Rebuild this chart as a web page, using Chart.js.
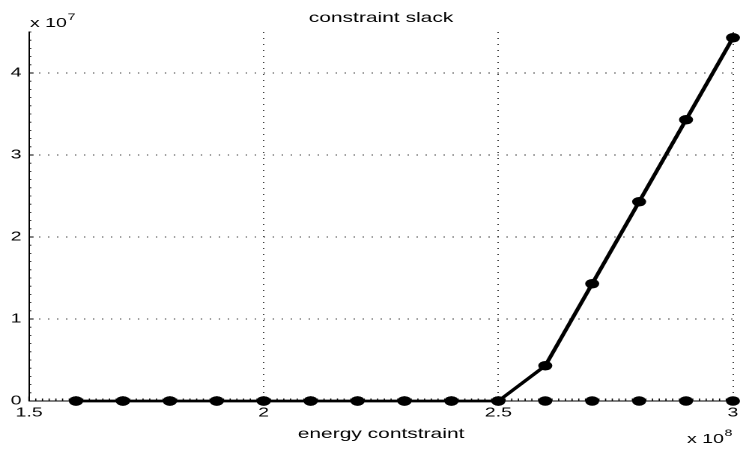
<!DOCTYPE html>
<html><head><meta charset="utf-8">
<script src="https://cdn.jsdelivr.net/npm/chart.js@4/dist/chart.umd.min.js"></script>
<style>
html,body{margin:0;padding:0;background:#fff;overflow:hidden}
#wrap{width:494px;height:449px;transform:scaleX(1.498);transform-origin:0 0}
</style></head><body>
<div id="wrap"><canvas id="c" width="494" height="449"></canvas></div>
<script>
// ---- data ----
const energyConstraint = [1.6e8, 1.7e8, 1.8e8, 1.9e8, 2.0e8, 2.1e8, 2.2e8, 2.3e8, 2.4e8, 2.5e8, 2.6e8, 2.7e8, 2.8e8, 2.9e8, 3.0e8];
const constraintSlack  = [0, 0, 0, 0, 0, 0, 0, 0, 0, 0, 0.43e7, 1.43e7, 2.43e7, 3.43e7, 4.43e7];
const zeroMarkers      = [0, 0, 0, 0, 0, 0, 0, 0, 0, 0, 0, 0, 0, 0, 0];
const xTicks = [1.5e8, 2.0e8, 2.5e8, 3.0e8];
const yTicks = [0, 1e7, 2e7, 3e7, 4e7];

const F = '"Liberation Sans", Arial, Helvetica, sans-serif';

const toPts = (xs, ys) => xs.map((x, i) => ({x: x, y: ys[i]}));

const decor = {
  id: 'decor',
  afterDatasetsDraw(chart) {
    const ctx = chart.ctx, a = chart.chartArea;
    const xs = chart.scales.x, ys = chart.scales.y;
    ctx.save();
    ctx.strokeStyle = '#000';
    ctx.lineWidth = 0.8;
    ctx.beginPath();
    // minor x ticks (inward)
    const xStep = (xTicks[1] - xTicks[0]) / 35;
    for (let i = 0; ; i++) {
      const v = xs.min + i * xStep;
      if (v > xs.max + 1) break;
      const p = xs.getPixelForValue(v);
      ctx.moveTo(p, a.bottom); ctx.lineTo(p, a.bottom - 2.5);
    }
    // minor y ticks
    const yStep = (yTicks[1] - yTicks[0]) / 10;
    for (let i = 0; ; i++) {
      const v = ys.min + i * yStep;
      if (v > ys.max + 1) break;
      const p = ys.getPixelForValue(v);
      ctx.moveTo(a.left, p); ctx.lineTo(a.left + 1.5, p);
    }
    ctx.stroke();
    ctx.lineWidth = 1;
    ctx.beginPath();
    xTicks.forEach(v => { const p = xs.getPixelForValue(v); ctx.moveTo(p, a.bottom); ctx.lineTo(p, a.bottom - 4.5); });
    yTicks.forEach(v => { const p = ys.getPixelForValue(v); ctx.moveTo(a.left, p); ctx.lineTo(a.left + 3, p); });
    ctx.stroke();
    ctx.restore();
  },
  afterDraw(chart) {
    const ctx = chart.ctx, a = chart.chartArea;
    ctx.save();
    ctx.fillStyle = '#000';
    ctx.textBaseline = 'alphabetic';
    ctx.textAlign = 'center';
    ctx.font = '14px ' + F;
    const cx = (a.left + a.right) / 2;
    ctx.fillText('constraint slack', cx, 22);
    ctx.fillText('energy contstraint', cx, 438);
    ctx.textAlign = 'left';
    // x 10^8
    ctx.font = '13px ' + F;
    let x0 = 687 / 1.498;
    ctx.fillText('x 10', x0, 443);
    let w = ctx.measureText('x 10').width;
    ctx.font = '9.5px ' + F;
    ctx.fillText('8', x0 + w + 0.5, 436);
    // x 10^7
    ctx.font = '13px ' + F;
    x0 = 30 / 1.498;
    ctx.fillText('x 10', x0, 27);
    w = ctx.measureText('x 10').width;
    ctx.font = '9.5px ' + F;
    ctx.fillText('7', x0 + w + 0.5, 20);
    ctx.restore();
  }
};

new Chart(document.getElementById('c'), {
  type: 'scatter',
  data: {
    datasets: [
      {
        data: toPts(energyConstraint, zeroMarkers),
        showLine: false,
        pointRadius: 4.7, pointBackgroundColor: '#000', pointBorderColor: '#000', pointBorderWidth: 0,
        clip: false
      },
      {
        data: toPts(energyConstraint, constraintSlack),
        showLine: true,
        borderColor: '#000', borderWidth: 2.8,
        pointRadius: 4.7, pointBackgroundColor: '#000', pointBorderColor: '#000', pointBorderWidth: 0,
        clip: false
      }
    ]
  },
  options: {
    responsive: false,
    devicePixelRatio: 2,
    animation: false,
    events: [],
    layout: {padding: {top: 32, right: 3.3, bottom: 0, left: 0}},
    plugins: {legend: {display: false}, tooltip: {enabled: false}, title: {display: false}},
    scales: {
      x: {
        type: 'linear', min: 1.5e8, max: 3e8,
        afterBuildTicks: s => { s.ticks = xTicks.map(v => ({value: v})); },
        afterFit: s => { s.height = 48; s.paddingLeft = 0; s.paddingRight = 0; },
        ticks: {callback: v => String(v / 1e8), font: {size: 13, family: F}, color: '#000', padding: 4, maxRotation: 0, autoSkip: false},
        grid: {drawTicks: false, lineWidth: 1, color: c => (c.tick && c.tick.value === xTicks[0]) ? 'rgba(0,0,0,0)' : '#444'},
        border: {display: true, color: '#000', width: 1, dash: [1, 5]}
      },
      y: {
        type: 'linear', min: 0, max: 4.5e7,
        afterBuildTicks: s => { s.ticks = yTicks.map(v => ({value: v})); },
        afterFit: s => { s.width = 19.4; s.paddingTop = 0; s.paddingBottom = 0; },
        ticks: {callback: v => String(v / 1e7), font: {size: 13, family: F}, color: '#000', padding: 5, autoSkip: false},
        grid: {drawTicks: false, lineWidth: 1, color: c => (c.tick && c.tick.value === yTicks[0]) ? 'rgba(0,0,0,0)' : '#444'},
        border: {display: true, color: '#000', width: 1, dash: [1, 5]}
      }
    }
  },
  plugins: [decor]
});
</script>
</body></html>
